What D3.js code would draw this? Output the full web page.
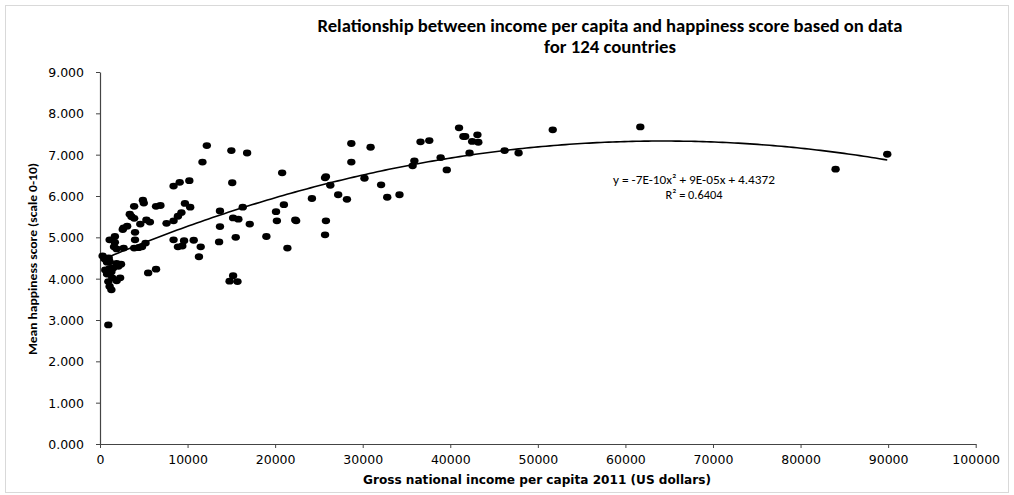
<!DOCTYPE html>
<html><head><meta charset="utf-8">
<script src="https://cdn.jsdelivr.net/npm/d3@7"></script>
<style>html,body{margin:0;padding:0;background:#fff;}svg{display:block;}</style>
</head><body>
<svg id="chart" width="1014" height="495"></svg>
<script>
// Gross national income per capita 2011 (US dollars)
const income = [300,1000,1100,1900,2400,1100,950,1300,1100,800,2300,1900,950,1100,1300,950,5500,6400,
1100,1700,1700,4000,5200,4800,4400,3900,2700,1900,2700,2600,4000,4600,5700,3400,3600,3900,3900,4900,5000,6400,6900,
7600,8400,8900,9300,9700,10300,8400,9100,10200,8400,9600,10700,8900,9400,11500,11300,12200,11700,15000,16800,15100,
13700,16300,15200,15800,17100,13700,13600,15500,19000,15200,14800,15700,20800,20100,21000,20200,22300,22400,21400,
28700,30900,36600,37600,28700,35900,35700,38900,39600,25800,25700,26300,30200,32100,24200,27200,28200,32800,34200,
25800,25700,41000,41500,41700,43100,42500,43200,51700,61700,42200,46200,47800,84000,89900,
500,1500,600,1400,1600,3100,2100,800,5300];
// Mean happiness score (scale 0-10)
const happiness = [4.55,4.50,4.41,4.37,4.35,4.25,4.19,4.17,4.11,4.11,4.02,3.95,3.93,3.81,3.73,2.88,4.14,4.23,
4.94,5.02,4.88,4.94,4.86,4.77,4.75,4.74,4.74,4.72,5.23,5.19,5.12,5.32,5.37,5.56,5.50,5.46,5.75,5.90,5.83,5.75,5.77,
5.34,5.40,5.51,5.60,5.82,5.73,6.24,6.33,6.37,4.94,4.92,4.93,4.77,4.79,4.77,4.53,7.22,6.82,7.10,7.04,6.32,
5.64,5.73,5.47,5.44,5.32,5.26,4.89,5.00,5.02,4.07,3.94,3.93,6.56,5.62,5.79,5.40,5.42,5.40,4.74,
7.27,7.18,7.31,7.34,6.82,6.85,6.73,6.93,6.63,6.47,6.44,6.26,6.43,6.27,5.94,6.03,5.92,5.97,6.03,
5.40,5.06,7.65,7.44,7.44,7.48,7.32,7.30,7.60,7.67,7.04,7.10,7.04,6.65,7.01,
4.48,4.26,4.21,4.02,4.77,5.27,4.30,4.40,5.42];
// Polynomial (order 2) trendline coefficients: a*x^2 + b*x + c
const trendCoef = [-7e-10, 9e-05, 4.4372];
const xTicks = [0,10000,20000,30000,40000,50000,60000,70000,80000,90000,100000];
const yTicks = [0,1,2,3,4,5,6,7,8,9];
const titleLines = ["Relationship between income per capita and happiness score based on data", "for 124 countries"];
const xTitle = "Gross national income per capita 2011 (US dollars)";
const yTitle = "Mean happiness score (scale 0-10)";
const eqLines = ["y = -7E-10x\u00B2 + 9E-05x + 4.4372", "R\u00B2 = 0.6404"];

const svg = d3.select("#chart");
svg.append("rect").attr("x",5.5).attr("y",5.5).attr("width",1003).attr("height",487)
  .attr("fill","#fff").attr("stroke","#d9d9d9").attr("stroke-width",1);

const x = d3.scaleLinear().domain([0,100000]).range([100,975.7]);
const y = d3.scaleLinear().domain([0,9]).range([444,72]);

const xAxis = svg.append("g").attr("transform","translate(0,444)")
  .call(d3.axisBottom(x).tickValues(xTicks).tickFormat(d3.format("d")).tickSizeInner(4).tickSizeOuter(0));
const yAxis = svg.append("g").attr("transform","translate(100,0)")
  .call(d3.axisLeft(y).tickValues(yTicks).tickFormat(d3.format(".3f")).tickSizeInner(4).tickSizeOuter(0));
[xAxis,yAxis].forEach(g=>{
  g.select(".domain").attr("stroke","#444").attr("stroke-width",1.2);
  g.selectAll(".tick line").attr("stroke","#444");
  g.selectAll(".tick text").attr("font-family","'DejaVu Sans', Verdana, sans-serif").attr("font-size","12.5px").attr("fill","#000");
});
xAxis.selectAll(".tick text").attr("dy","1.05em");
yAxis.selectAll(".tick text").attr("x",-16).attr("dy","0.35em");

// trendline
const xs = d3.extent(income);
const pts = d3.range(0,201).map(i=>xs[0]+(xs[1]-xs[0])*i/200);
const f = v => trendCoef[0]*v*v + trendCoef[1]*v + trendCoef[2];
svg.append("path").datum(pts)
  .attr("d", d3.line().x(d=>x(d)).y(d=>y(f(d))))
  .attr("fill","none").attr("stroke","#000").attr("stroke-width",1.6);

// points
svg.append("g").selectAll("ellipse").data(income.map((v,i)=>[v,happiness[i]])).join("ellipse")
  .attr("cx",d=>x(d[0])).attr("cy",d=>y(d[1])).attr("rx",4.2).attr("ry",3.4).attr("fill","#000");

// titles
const tf = "Carlito, 'Liberation Sans Narrow', 'Liberation Sans', Arial, sans-serif";
svg.append("text").attr("x",610).attr("y",32).attr("text-anchor","middle")
  .attr("font-family",tf).attr("font-weight","bold").attr("font-size","17.5px")
  .attr("textLength",585).attr("lengthAdjust","spacingAndGlyphs").text(titleLines[0]);
svg.append("text").attr("x",610).attr("y",53).attr("text-anchor","middle")
  .attr("font-family",tf).attr("font-weight","bold").attr("font-size","17.5px")
  .attr("textLength",132).attr("lengthAdjust","spacingAndGlyphs").text(titleLines[1]);

svg.append("text").attr("x",537).attr("y",484).attr("text-anchor","middle")
  .attr("font-family","'DejaVu Sans', Verdana, sans-serif").attr("font-weight","bold").attr("font-size","11.5px")
  .attr("textLength",348).attr("lengthAdjust","spacingAndGlyphs").text(xTitle);

svg.append("text").attr("transform","translate(37,259) rotate(-90)").attr("text-anchor","middle")
  .attr("font-family",tf).attr("font-weight","bold").attr("font-size","12.5px")
  .attr("textLength",192).attr("lengthAdjust","spacingAndGlyphs").text(yTitle);

svg.append("text").attr("x",694).attr("y",184).attr("text-anchor","middle")
  .attr("font-family",tf).attr("font-size","13px")
  .attr("textLength",162).attr("lengthAdjust","spacingAndGlyphs").text(eqLines[0]);
svg.append("text").attr("x",694).attr("y",199).attr("text-anchor","middle")
  .attr("font-family",tf).attr("font-size","13px")
  .attr("textLength",57).attr("lengthAdjust","spacingAndGlyphs").text(eqLines[1]);
</script>
</body></html>
